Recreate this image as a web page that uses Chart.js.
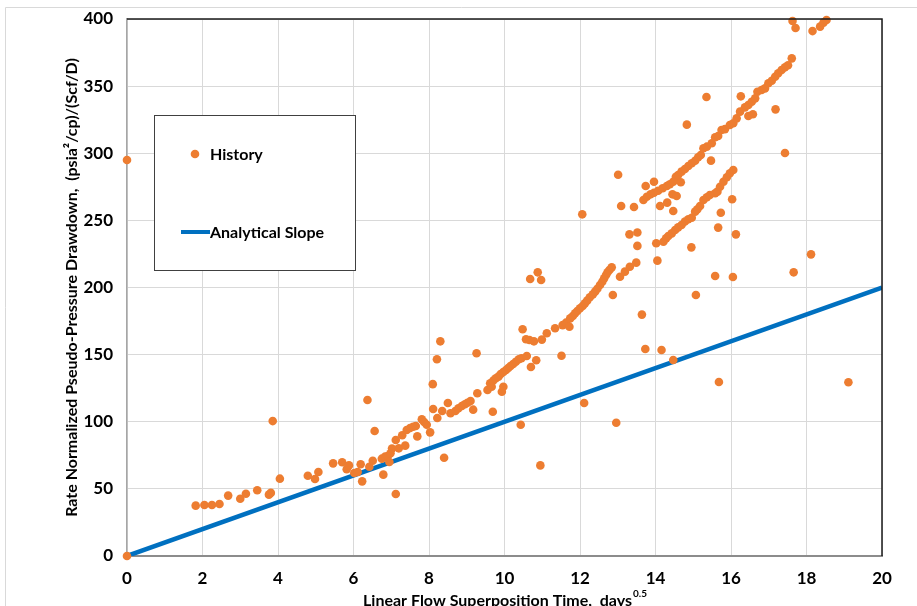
<!DOCTYPE html>
<html>
<head>
<meta charset="utf-8">
<title>Linear Flow Plot</title>
<script src="https://cdn.jsdelivr.net/npm/chart.js@4.4.0/dist/chart.umd.min.js"></script>
<style>
  html, body { margin: 0; padding: 0; background: #fff; }
  #wrap { width: 917px; height: 606px; position: relative; }
</style>
</head>
<body>
<div id="wrap"><canvas id="flowChart"></canvas></div>
<script>
// linear flow superposition time (days^0.5)
const historyT = [
  0, 0,
  1.82, 2.05, 2.25, 2.45, 2.68, 3.0, 3.15, 3.45, 3.76, 3.81, 3.86, 4.05,
  4.79, 4.98, 5.07, 5.46, 5.70, 5.82, 5.88, 6.02, 6.11, 6.19, 6.23, 6.37, 6.42, 6.51, 6.56,
  6.75, 6.79, 6.84, 6.91, 6.95, 6.98, 7.02, 7.12, 7.12, 7.20, 7.29, 7.37, 7.41, 7.50, 7.58,
  7.65, 7.69, 7.81, 7.87, 7.94, 8.03, 8.10, 8.11, 8.21, 8.22, 8.30, 8.35, 8.40, 8.50, 8.57,
  8.70, 8.78, 8.87, 8.95, 9.02, 9.10, 9.17, 9.26, 9.28,
  9.55, 9.62, 9.66, 9.69, 9.70, 9.77, 9.84, 9.90, 9.93, 9.97, 9.97, 10.04, 10.10, 10.16,
  10.23, 10.30, 10.38, 10.43, 10.45, 10.48, 10.57, 10.59, 10.66, 10.68, 10.70, 10.78,
  10.84, 10.88, 10.95, 10.97, 10.99, 11.12, 11.34, 11.51, 11.54, 11.63, 11.72,
  11.74, 11.81, 11.87, 11.93, 12.00, 12.06, 12.07, 12.11, 12.13, 12.19, 12.26, 12.34,
  12.40, 12.46, 12.53, 12.59, 12.64, 12.69, 12.73, 12.78, 12.84, 12.87, 12.96,
  13.01, 13.06, 13.09, 13.19, 13.31, 13.32, 13.43, 13.49, 13.52, 13.52, 13.64, 13.73,
  13.68, 13.74, 13.77, 13.87, 13.96, 13.96, 14.07, 14.19, 14.30, 14.38, 14.47, 14.54,
  14.60, 14.69, 14.78, 14.87, 14.96, 15.05, 15.13, 15.20, 15.27, 15.36, 15.49, 15.58,
  15.66, 15.75, 15.84, 15.97, 16.06, 16.15, 16.24, 16.37, 16.46, 16.55, 16.64, 16.70,
  16.81, 16.90, 16.99, 17.08, 17.17, 17.25, 17.34, 17.43, 17.51, 17.61,
  14.02, 14.21, 14.28, 14.34, 14.43, 14.52, 14.60, 14.69, 14.78, 14.87, 14.96, 15.05,
  15.11, 15.18, 15.27, 15.36, 15.44, 15.58, 15.64, 15.71, 15.80, 15.89, 15.97, 16.06,
  14.05, 14.12, 14.16, 14.31, 14.45, 14.47, 14.47, 14.56, 14.67, 14.83, 14.95, 15.07,
  15.35, 15.47, 15.58, 15.66, 15.68, 15.73, 16.03, 16.05, 16.13, 16.26, 16.46, 16.58,
  17.18, 17.43, 17.66, 18.12, 19.11,
  17.63, 17.71, 18.16, 18.36, 18.45, 18.53
];

// rate normalized pseudo-pressure drawdown, (psia2/cp)/(Scf/D)
const historyP = [
  0, 295,
  37.5, 38, 38, 38.7, 45, 42.7, 46.4, 49, 45.7, 47, 100.5, 57.6,
  59.8, 57.4, 62.6, 69, 69.8, 64.6, 67.5, 61.8, 62.6, 68.3, 55.6, 116.2, 66.5, 71, 93.1,
  72.5, 60.6, 74, 74.5, 70, 76.5, 80, 46.2, 86.4, 80.2, 90, 82.2, 93.9, 95.3, 96.3,
  96.8, 89.1, 101.8, 99.8, 97.8, 92.1, 128, 109.5, 146.5, 102.8, 159.9, 108, 73.2, 114, 106.3,
  108, 110, 111.7, 113, 114.2, 115.5, 109, 151, 121.2,
  123.6, 128.6, 126.1, 107.5, 130.6, 132.4, 133.6, 135.6, 122.4, 137.1, 126.1, 138.6, 140, 141.5,
  143, 144.7, 146.5, 97.8, 147.3, 168.9, 161.4, 149, 160.9, 206.3, 140.8, 159.9,
  145.8, 211.3, 67.5, 205.6, 161.2, 165.9, 169.6, 149.2, 172, 173.8, 170.8,
  177, 178.8, 180.8, 182.5, 184.5, 254.5, 186.2, 114, 188.2, 190.2, 192.7, 194.9,
  196.9, 199.1, 201.9, 204.3, 206.8, 209.3, 211.3, 213, 215, 194.4, 99.3,
  284, 208, 260.7, 211.8, 239.6, 215.5, 260, 218.5, 241, 231, 179.8, 154.2,
  265.2, 275.6, 267.6, 269.4, 270.6, 278.8, 272.1, 273.9, 275.6, 276.9, 278.8, 282.5,
  283.8, 286.3, 288.3, 290.5, 292.5, 294.4, 297, 298.7, 303.7, 304.9, 307.4, 311.9,
  312.8, 317.3, 318, 321, 322.3, 326, 331, 334.2, 335.9, 338.4, 340.9, 345.8,
  347.1, 348.3, 352.1, 354, 357, 359.6, 362, 364, 365.5, 370.7,
  233, 234.1, 236.6, 238.4, 240.3, 242.8, 244.8, 246.6, 249.1, 250.8, 252, 256.5,
  258.3, 260.7, 265.2, 267.2, 268.9, 270.2, 271.4, 275.1, 278.8, 282.1, 285.1, 287.5,
  220, 260.7, 153.4, 263.2, 269.4, 257, 146, 268.2, 278.4, 321.3, 229.9, 194.4,
  341.9, 294.5, 208.6, 244.6, 129.6, 255.7, 265.7, 207.8, 239.6, 342.4, 327.8, 329,
  332.7, 300.2, 211.3, 224.7, 129.4,
  398.5, 393.3, 391, 394.3, 397.3, 399.3
];

// analytical straight-line slope through the origin
const slopeT = [0, 20];
const slopeP = [0, 200];

const xTicks = [0, 2, 4, 6, 8, 10, 12, 14, 16, 18, 20];
const yTicks = [0, 50, 100, 150, 200, 250, 300, 350, 400];

const FONT = 'Lato, "Open Sans", sans-serif';
const ORANGE = '#ED7D31';
const BLUE = '#0070C0';

const historyData = historyT.map((t, i) => ({ x: t, y: historyP[i] }));
const slopeData = slopeT.map((t, i) => ({ x: t, y: slopeP[i] }));

// borders, legend box and axis titles
const decorations = {
  id: 'decorations',
  beforeDraw(chart) {
    const ctx = chart.ctx;
    ctx.save();
    ctx.strokeStyle = '#D9D9D9';
    ctx.lineWidth = 1;
    ctx.beginPath();
    ctx.moveTo(5.5, 640);
    ctx.lineTo(5.5, 7.5);
    ctx.lineTo(940, 7.5);
    ctx.stroke();
    ctx.restore();
  },
  afterDraw(chart) {
    const ctx = chart.ctx;
    const a = chart.chartArea;
    ctx.save();

    // top and right frame
    ctx.strokeStyle = '#1a1a1a';
    ctx.lineWidth = 1.5;
    ctx.beginPath();
    ctx.moveTo(a.left, a.top);
    ctx.lineTo(a.right, a.top);
    ctx.lineTo(a.right, a.bottom);
    ctx.stroke();

    // legend
    ctx.fillStyle = '#fff';
    ctx.fillRect(154, 115, 201, 155);
    ctx.strokeStyle = '#404040';
    ctx.lineWidth = 1;
    ctx.strokeRect(154.5, 115.5, 201, 155);

    ctx.fillStyle = ORANGE;
    ctx.beginPath();
    ctx.arc(195, 154, 4.3, 0, Math.PI * 2);
    ctx.fill();

    ctx.strokeStyle = BLUE;
    ctx.lineWidth = 4;
    ctx.beginPath();
    ctx.moveTo(181, 232);
    ctx.lineTo(210, 232);
    ctx.stroke();

    ctx.fillStyle = '#000';
    ctx.font = 'bold 16px ' + FONT;
    ctx.textBaseline = 'middle';
    ctx.textAlign = 'left';
    ctx.fillText('History', 210, 155);
    ctx.fillText('Analytical Slope', 210, 233);

    // y title
    ctx.save();
    ctx.translate(72, (a.top + a.bottom) / 2);
    ctx.rotate(-Math.PI / 2);
    ctx.textAlign = 'center';
    ctx.font = 'bold 16px ' + FONT;
    ctx.fillText('Rate Normalized Pseudo-Pressure Drawdown,  (psia\u00B2/cp)/(Scf/D)', 0, 0);
    ctx.restore();

    // x title with superscript exponent
    const main = 'Linear Flow Superposition Time,  days';
    const sup = '0.5';
    ctx.font = 'bold 16px ' + FONT;
    const wMain = ctx.measureText(main).width;
    ctx.font = 'bold 10px ' + FONT;
    const wSup = ctx.measureText(sup).width;
    const x0 = (a.left + a.right) / 2 - (wMain + wSup) / 2;
    ctx.font = 'bold 16px ' + FONT;
    ctx.fillText(main, x0, 601);
    ctx.font = 'bold 10px ' + FONT;
    ctx.fillText(sup, x0 + wMain + 1, 594);

    ctx.restore();
  }
};

new Chart(document.getElementById('flowChart'), {
  type: 'scatter',
  data: {
    datasets: [
      {
        label: 'History',
        data: historyData,
        backgroundColor: ORANGE,
        borderWidth: 0,
        pointRadius: 4.3,
        clip: false
      },
      {
        label: 'Analytical Slope',
        type: 'line',
        data: slopeData,
        borderColor: BLUE,
        borderWidth: 4.5,
        pointRadius: 0,
        fill: false
      }
    ]
  },
  options: {
    responsive: true,
    maintainAspectRatio: false,
    animation: false,
    layout: { padding: { top: 19, right: 35, left: 0, bottom: 0 } },
    plugins: {
      legend: { display: false },
      tooltip: { enabled: false }
    },
    scales: {
      x: {
        type: 'linear',
        min: 0,
        max: 20,
        afterBuildTicks: s => { s.ticks = xTicks.map(v => ({ value: v })); },
        afterFit: s => {
          s.height = 50;
          s.paddingLeft = 0;
          s.paddingRight = 0;
        },
        ticks: {
          color: '#000',
          padding: 12,
          font: { family: FONT, size: 17, weight: 'bold' }
        },
        grid: { color: '#D9D9D9', lineWidth: 1, drawTicks: false },
        border: { color: '#8C8C8C', width: 2 }
      },
      y: {
        type: 'linear',
        min: 0,
        max: 400,
        afterBuildTicks: s => { s.ticks = yTicks.map(v => ({ value: v })); },
        afterFit: s => {
          s.width = 127;
          s.paddingTop = 0;
          s.paddingBottom = 0;
        },
        ticks: {
          color: '#000',
          padding: 14,
          font: { family: FONT, size: 17, weight: 'bold' }
        },
        grid: { color: '#D9D9D9', lineWidth: 1, drawTicks: false },
        border: { color: '#A6A6A6', width: 1.5 }
      }
    }
  },
  plugins: [decorations]
});
</script>
</body>
</html>
